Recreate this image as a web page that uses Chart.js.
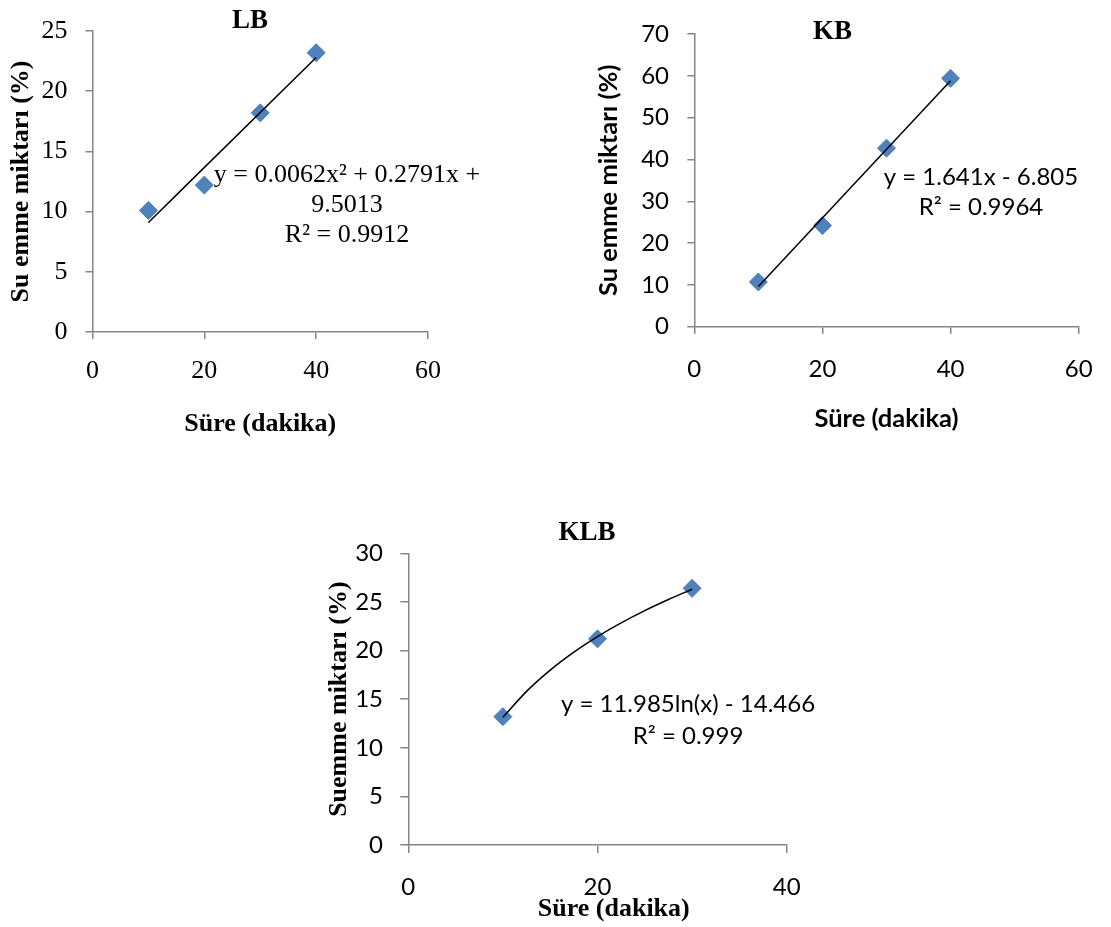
<!DOCTYPE html>
<html>
<head>
<meta charset="utf-8">
<script src="https://cdn.jsdelivr.net/npm/chart.js@4"></script>
<style>
  body { margin: 0; background: #fff; }
  #page { position: relative; width: 1111px; height: 927px; }
  canvas { position: absolute; }
</style>
</head>
<body>
<div id="page">
  <canvas id="lbChart" width="540" height="445" style="left:0;top:0"></canvas>
  <canvas id="kbChart" width="521" height="445" style="left:590px;top:0"></canvas>
  <canvas id="klbChart" width="500" height="427" style="left:320px;top:500px"></canvas>
</div>
<script>
// water uptake (%) against soaking time (minutes)
const minutes = [10, 20, 30, 40];
const lbUptake = [10.1, 12.2, 18.2, 23.2];
const kbUptake = [10.7, 24.2, 42.7, 59.4];
const klbMinutes = [10, 20, 30];
const klbUptake = [13.2, 21.2, 26.4];

// trendlines
const lbTrendX = [10, 40];
const lbTrendY = [9.1, 22.8];
const kbTrendX = [10, 40];
const kbTrendY = [9.6, 58.8];
const klbTrendX = [10, 12.5, 15, 17.5, 20, 22.5, 25, 27.5, 30];
const klbTrendY = [13.13, 15.80, 17.99, 19.84, 21.44, 22.85, 24.11, 25.25, 26.30];

// tick labels
const lbTicksX = [0, 20, 40, 60];
const lbTicksY = [0, 5, 10, 15, 20, 25];
const kbTicksX = [0, 20, 40, 60];
const kbTicksY = [0, 10, 20, 30, 40, 50, 60, 70];
const klbTicksX = [0, 20, 40];
const klbTicksY = [0, 5, 10, 15, 20, 25, 30];

const serif = "'Liberation Serif', 'Times New Roman', serif";
const sans = "Lato, 'Open Sans', sans-serif";
const axisColor = '#868686';

// draws titles and trendline equations
const notes = {
  id: 'notes',
  afterDraw(chart, args, opts) {
    const ctx = chart.ctx;
    for (const n of opts.items || []) {
      ctx.save();
      ctx.font = n.font;
      ctx.fillStyle = '#000';
      ctx.textAlign = 'center';
      ctx.textBaseline = 'alphabetic';
      ctx.fillText(n.text, n.x, n.y);
      ctx.restore();
    }
  }
};

function axis(ticks, o) {
  return {
    type: 'linear',
    min: ticks[0],
    max: ticks[ticks.length - 1],
    afterBuildTicks: s => { s.ticks = ticks.map(v => ({ value: v })); },
    afterFit: s => {
      if (s.isHorizontal()) {
        s.height = o.size;
        s.paddingLeft = 0;
        s.paddingRight = 0;
      } else {
        s.width = o.size;
        s.paddingTop = 0;
        s.paddingBottom = 0;
      }
    },
    border: { color: axisColor, width: 1.5 },
    grid: { drawOnChartArea: false, color: axisColor, lineWidth: 1.5, tickLength: o.tickLen },
    ticks: { color: '#000', font: o.tickFont, padding: o.pad },
    title: { display: true, text: o.title, color: '#000', font: o.titleFont, padding: o.titlePad }
  };
}

function build(id, o) {
  return new Chart(document.getElementById(id), {
    type: 'scatter',
    data: {
      datasets: [
        {
          data: o.trendX.map((x, i) => ({ x, y: o.trendY[i] })),
          showLine: true,
          borderColor: '#000',
          borderWidth: 1.5,
          pointRadius: 0,
          cubicInterpolationMode: 'monotone',
          order: 0
        },
        {
          data: o.x.map((x, i) => ({ x, y: o.y[i] })),
          pointStyle: 'rectRot',
          pointRadius: 9,
          backgroundColor: '#4F81BD',
          borderColor: '#4A7EBB',
          borderWidth: 1,
          order: 1
        }
      ]
    },
    options: {
      responsive: false,
      animation: false,
      layout: { padding: o.padding },
      plugins: {
        legend: { display: false },
        tooltip: { enabled: false },
        notes: { items: o.notes }
      },
      scales: { x: o.xAxis, y: o.yAxis }
    },
    plugins: [notes]
  });
}

const serifTick = { family: serif, size: 26 };
const sansTick = { family: sans, size: 24 };
const serifTitle = { family: serif, size: 26, weight: 'bold', lineHeight: 1.2 };
const sansTitle = { family: sans, size: 25.5, weight: 'bold', lineHeight: 1.2 };

build('lbChart', {
  x: minutes, y: lbUptake, trendX: lbTrendX, trendY: lbTrendY,
  padding: { top: 31, right: 112, left: 0, bottom: 0 },
  xAxis: axis(lbTicksX, { size: 113, tickLen: 7, pad: 17, tickFont: serifTick,
    title: 'Süre (dakika)', titleFont: serifTitle, titlePad: { top: 0, bottom: 5.4 } }),
  yAxis: axis(lbTicksY, { size: 92.5, tickLen: 7, pad: 18, tickFont: serifTick,
    title: 'Su emme miktarı (%)', titleFont: serifTitle, titlePad: { top: 5.4, bottom: 0 } }),
  notes: [
    { text: 'LB', x: 250, y: 28, font: 'bold 27px ' + serif },
    { text: 'y = 0.0062x² + 0.2791x +', x: 347, y: 182, font: '26px ' + serif },
    { text: '9.5013', x: 347, y: 212, font: '26px ' + serif },
    { text: 'R² = 0.9912', x: 347, y: 242, font: '26px ' + serif }
  ]
});

build('kbChart', {
  x: minutes, y: kbUptake, trendX: kbTrendX, trendY: kbTrendY,
  padding: { top: 34, right: 32.3, left: 0, bottom: 0 },
  xAxis: axis(kbTicksX, { size: 118.3, tickLen: 7, pad: 21.4, tickFont: sansTick,
    title: 'Süre (dakika)', titleFont: sansTitle, titlePad: { top: 0, bottom: 10.7 } }),
  yAxis: axis(kbTicksY, { size: 104.3, tickLen: 7, pad: 18.3, tickFont: sansTick,
    title: 'Su emme miktarı (%)', titleFont: sansTitle, titlePad: { top: 3.7, bottom: 0 } }),
  notes: [
    { text: 'KB', x: 242.5, y: 39, font: 'bold 27px ' + serif },
    { text: 'y = 1.641x - 6.805', x: 391, y: 185, font: '24px ' + sans },
    { text: 'R² = 0.9964', x: 391, y: 215, font: '24px ' + sans }
  ]
});

build('klbChart', {
  x: klbMinutes, y: klbUptake, trendX: klbTrendX, trendY: klbTrendY,
  padding: { top: 53.3, right: 33.3, left: 0, bottom: 0 },
  xAxis: axis(klbTicksX, { size: 82, tickLen: 8, pad: 20, tickFont: sansTick,
    title: '     Süre (dakika)', titleFont: serifTitle, titlePad: { top: 0, bottom: 2.4 } }),
  yAxis: axis(klbTicksY, { size: 88.3, tickLen: 8, pad: 17.3, tickFont: sansTick,
    title: 'Suemme miktarı (%)', titleFont: serifTitle, titlePad: { top: 3.4, bottom: 0 } }),
  notes: [
    { text: 'KLB', x: 267, y: 40, font: 'bold 27px ' + serif },
    { text: 'y = 11.985ln(x) - 14.466', x: 368, y: 212, font: '24px ' + sans },
    { text: 'R² = 0.999', x: 368, y: 244, font: '24px ' + sans }
  ]
});
</script>
</body>
</html>
